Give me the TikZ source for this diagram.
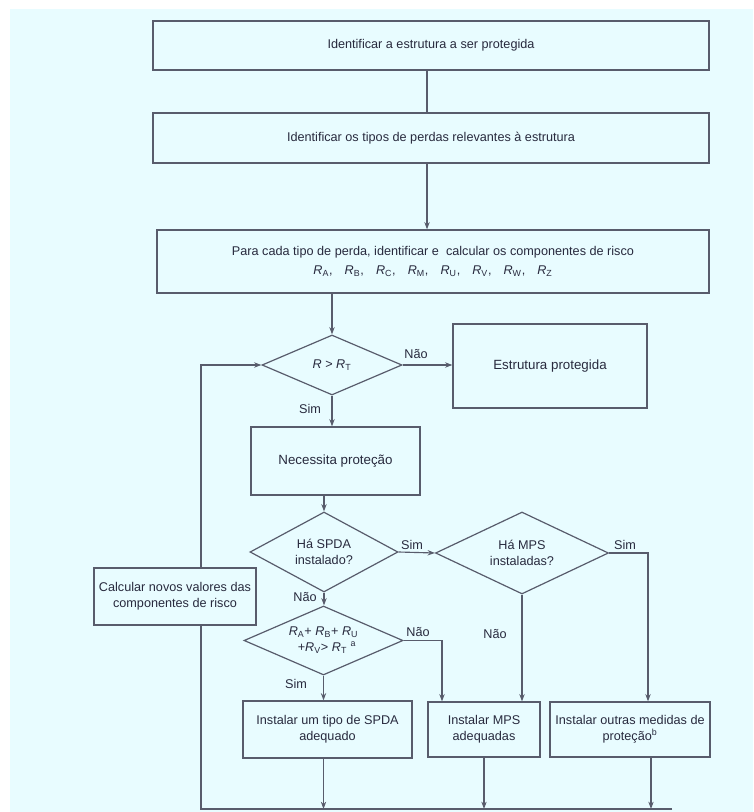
\documentclass[tikz,border=0pt]{standalone}
\usepackage{fontspec}
\setmainfont{Liberation Sans}
\usetikzlibrary{shapes.geometric,arrows.meta}
\definecolor{bgc}{RGB}{232,252,255}
\definecolor{linec}{RGB}{88,92,108}
\definecolor{txtc}{RGB}{40,42,62}
\newcommand{\Rsub}[1]{\textit{R}\textsubscript{#1}}
\begin{document}
\begin{tikzpicture}[x=0.75pt,y=-0.75pt,
  every node/.style={text=txtc, font=\fontsize{9.5}{12}\selectfont},
  box/.style={draw=linec, line width=0.9pt, rectangle, inner sep=0pt, align=center},
  dia/.style={draw=linec, line width=0.9pt, diamond, aspect=2.2, inner sep=0pt, align=center},
  conn/.style={draw=linec, line width=0.85pt},
  arr/.style={conn, -{Stealth[length=5.5pt,width=4pt]}},
  lbl/.style={inner sep=1pt}]
\useasboundingbox (0,0) rectangle (753,812);
\fill[bgc] (10,9) rectangle (753,812);

% boxes and decisions
\node[box, minimum width=417pt, minimum height=36.75pt] (b1) at (431,45.5) {Identificar a estrutura a ser protegida};
\node[box, minimum width=417pt, minimum height=37.5pt] (b2) at (431,138) {Identificar os tipos de perdas relevantes à estrutura};
\node[box, minimum width=414pt, minimum height=47.25pt, font=\fontsize{9.5}{14}\selectfont] (b3) at (433,261.5)
  {Para cada tipo de perda, identificar e\ \ calcular os componentes de risco\\
   \Rsub{A},\hspace{0.95em}\Rsub{B},\hspace{0.95em}\Rsub{C},\hspace{0.95em}\Rsub{M},\hspace{0.95em}\Rsub{U},\hspace{0.95em}\Rsub{V},\hspace{0.95em}\Rsub{W},\hspace{0.95em}\Rsub{Z}};
\node[dia, minimum width=105pt, minimum height=45pt] (d1) at (332,365) {\textit{R} > \Rsub{T}};
\node[box, minimum width=145.5pt, minimum height=63pt, font=\fontsize{10}{12}\selectfont] (est) at (550,366) {Estrutura protegida};
\node[box, minimum width=126.75pt, minimum height=51pt, font=\fontsize{10}{12}\selectfont] (nec) at (335.5,461) {Necessita proteção};
\node[dia, minimum width=111pt, minimum height=60pt] (spda) at (324,552) {Há SPDA\\instalado?};
\node[dia, minimum width=129.75pt, minimum height=61.5pt] (mps) at (522,553) {Há MPS\\instaladas?};
\node[box, minimum width=121.5pt, minimum height=42.75pt] (calc) at (175,596.5) {Calcular novos valores das\\componentes de risco};
\node[dia, minimum width=119.25pt, minimum height=51.75pt] (ra) at (323.5,640.5) {\Rsub{A}+ \Rsub{B}+ \Rsub{U}\\\ \ +\Rsub{V}> \Rsub{T} \textsuperscript{a}};
\node[box, minimum width=126.75pt, minimum height=42.75pt] (spdab) at (327.5,729.5) {Instalar um tipo de SPDA\\adequado};
\node[box, minimum width=84pt, minimum height=41.25pt] (mpsb) at (484,729.5) {Instalar MPS\\adequadas};
\node[box, minimum width=120pt, minimum height=41.25pt] (outb) at (630,729.5) {Instalar outras medidas de\\proteção\textsuperscript{b}};

% helper coordinates
\coordinate (xa) at (427,0);
\coordinate (xo) at (651,0);
\coordinate (bl) at (201,809);
\coordinate (br) at (672,809);
\coordinate (mpsr) at (648,553);
\coordinate (rar) at (442,640.5);

% connectors
\draw[conn] (b1.south -| xa) -- (b2.north -| xa);
\draw[arr] (b2.south -| xa) -- (b3.north -| xa);
\draw[arr] (b3.south -| d1.north) -- (d1.north);
\draw[arr] (d1.east) -- (d1.east -| est.west);
\draw[arr] (d1.south) -- (d1.south |- nec.north);
\draw[arr] (nec.south -| spda.north) -- (spda.north);
\draw[arr] (spda.east) -- (mps.west);
\draw[arr] (mps.east) -- (mpsr) -- (outb.north -| mpsr);
\draw[arr] (mps.south) -- (mps.south |- mpsb.north);
\draw[arr] (spda.south) -- (spda.south |- ra.north);
\draw[arr] (ra.east) -- (rar) -- (rar |- mpsb.north);
\draw[arr] (ra.south) -- (ra.south |- spdab.north);
\draw[arr] (spdab.south -| ra.south) -- (bl -| ra.south);
\draw[arr] (mpsb.south) -- (mpsb.south |- bl);
\draw[arr] (outb.south -| xo) -- (bl -| xo);
\draw[conn] (br) -- (bl) -- (bl |- calc.south);
\draw[arr] (bl |- calc.north) -- (bl |- d1.west) -- (d1.west);

% labels
\node[lbl] (l1) at (416,354) {Não};
\node[lbl] (l2) at (310,409) {Sim};
\node[lbl] (l3) at (412,545) {Sim};
\node[lbl] (l4) at (625,545) {Sim};
\node[lbl] (l5) at (305,597) {Não};
\node[lbl] (l6) at (418,632) {Não};
\node[lbl] (l7) at (495,634) {Não};
\node[lbl] (l8) at (296,684) {Sim};
\end{tikzpicture}
\end{document}
